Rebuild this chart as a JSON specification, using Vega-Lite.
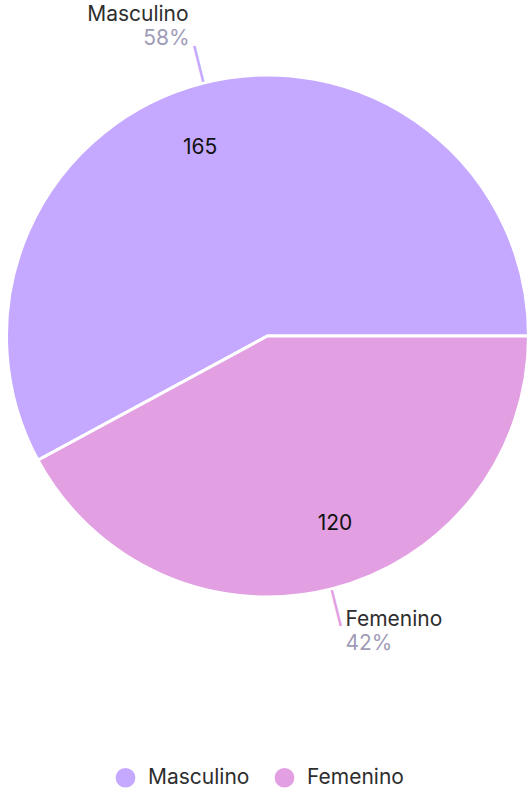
{
  "$schema": "https://vega.github.io/schema/vega-lite/v6.json",
  "width": 527,
  "height": 672,
  "padding": 0,
  "background": "white",
  "data": {
    "values": [
      {"sexo": "Masculino", "n": 165, "pct": 0.58},
      {"sexo": "Femenino", "n": 120, "pct": 0.42}
    ]
  },
  "encoding": {
    "theta": {"field": "n", "type": "quantitative", "stack": true, "scale": {"range": [1.5708, 7.854]}},
    "order": {"field": "n", "type": "quantitative", "sort": "ascending"},
    "color": {
      "field": "sexo",
      "type": "nominal",
      "scale": {"domain": ["Masculino", "Femenino"], "range": ["#c5a8ff", "#e2a0e2"]},
      "legend": {
        "orient": "none",
        "legendX": 111,
        "legendY": 767,
        "direction": "horizontal",
        "title": null,
        "symbolType": "circle",
        "symbolSize": 390,
        "symbolStrokeWidth": 0,
        "labelFont": "Inter",
        "labelFontSize": 21,
        "labelColor": "#2e2e2e",
        "labelOffset": 12,
        "columnPadding": 24
      }
    }
  },
  "layer": [
    {
      "mark": {"type": "arc", "outerRadius": 261, "stroke": "white", "strokeWidth": 3}
    },
    {
      "mark": {"type": "text", "radius": 200, "font": "Inter", "fontSize": 21, "align": "center", "baseline": "middle"},
      "encoding": {
        "theta": {"field": "n", "type": "quantitative", "stack": true, "scale": {"range": [1.4748, 7.758]}},
        "color": {"value": "#111111"},
        "text": {"field": "n", "type": "quantitative"}
      }
    },
    {
      "mark": {"type": "text", "radius": 279, "font": "DejaVu Sans", "fontSize": 31, "align": "center", "baseline": "middle", "text": "│"},
      "encoding": {
        "angle": {"condition": {"test": "datum.sexo === 'Masculino'", "value": 346}, "value": 166}
      }
    },
    {
      "mark": {"type": "text", "radius": 297, "font": "Inter", "fontSize": 21, "align": "right", "baseline": "middle", "dx": -6, "dy": -33},
      "encoding": {
        "color": {"value": "#2e2e2e"},
        "text": {"condition": {"test": "datum.sexo === 'Masculino'", "field": "sexo"}, "value": ""}
      }
    },
    {
      "mark": {"type": "text", "radius": 297, "font": "Inter", "fontSize": 21, "align": "right", "baseline": "middle", "dx": -5, "dy": -9},
      "encoding": {
        "color": {"value": "#a09cb8"},
        "text": {"condition": {"test": "datum.sexo === 'Masculino'", "field": "pct", "format": ".0%"}, "value": ""}
      }
    },
    {
      "mark": {"type": "text", "radius": 297, "font": "Inter", "fontSize": 21, "align": "left", "baseline": "middle", "dx": 5, "dy": -4},
      "encoding": {
        "color": {"value": "#2e2e2e"},
        "text": {"condition": {"test": "datum.sexo === 'Femenino'", "field": "sexo"}, "value": ""}
      }
    },
    {
      "mark": {"type": "text", "radius": 297, "font": "Inter", "fontSize": 21, "align": "left", "baseline": "middle", "dx": 5, "dy": 20},
      "encoding": {
        "color": {"value": "#a09cb8"},
        "text": {"condition": {"test": "datum.sexo === 'Femenino'", "field": "pct", "format": ".0%"}, "value": ""}
      }
    }
  ],
  "resolve": {"scale": {"theta": "independent"}},
  "config": {"view": {"stroke": null}}
}
